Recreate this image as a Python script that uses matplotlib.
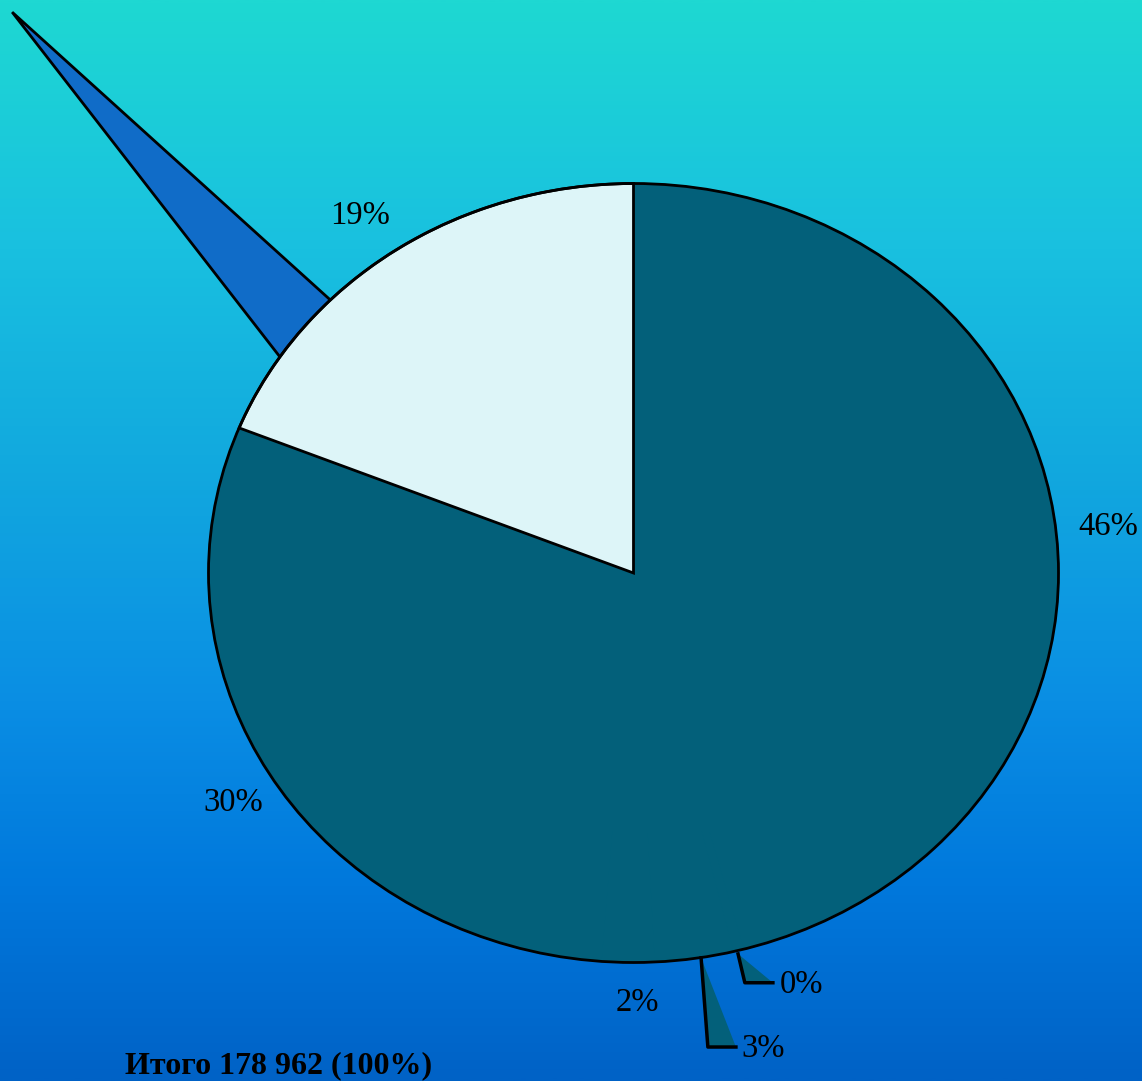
import numpy as np
import matplotlib.pyplot as plt
from matplotlib.colors import LinearSegmentedColormap
from matplotlib.patches import Ellipse, Polygon

# shares of the total, clockwise from 12 o'clock
labels = ["46%", "0%", "3%", "2%", "30%", "19%"]
values = [46, 0.4, 3, 2, 30, 19]
total_text = "Итого 178 962 (100%)"

dark = "#03607a"
light = "#ddf5f8"
needle_color = "#106cc8"
colors = [dark, dark, dark, dark, dark, light]

# label positions (data units, radius 1 = pie edge)
label_pos = [(1.118, 0.118), (0.345, -1.058), (0.253, -1.222),
             (0.008, -1.104), (-0.942, -0.59), (-0.644, 0.917)]
label_ha = ["center", "left", "left", "center", "center", "center"]


def main():
    fig = plt.figure(figsize=(11.42, 10.81), dpi=100)

    # gradient background
    bg = fig.add_axes([0, 0, 1, 1])
    bg.set_axis_off()
    stops = [(0.0, "#1ed8d2"), (0.23, "#19c0e0"), (0.42, "#12aade"),
             (0.65, "#0a8ee4"), (0.82, "#0078dc"), (1.0, "#0062c6")]
    cmap = LinearSegmentedColormap.from_list("bg", stops)
    grad = np.linspace(0, 1, 512).reshape(-1, 1)
    bg.imshow(grad, cmap=cmap, aspect="auto", extent=[0, 1, 0, 1])

    ax = fig.add_axes([0, 0, 1, 1])
    ax.patch.set_alpha(0)

    # long blue sliver pointing to the upper-left corner
    a1, a2 = np.radians(135.5), np.radians(146.3)
    tip = (-1.462, 1.44)
    ax.add_patch(Polygon([tip, (np.cos(a1), np.sin(a1)), (np.cos(a2), np.sin(a2))],
                         closed=True, facecolor=needle_color, edgecolor="black",
                         linewidth=2, zorder=1))

    wedges, _ = ax.pie(values, colors=colors, startangle=90, counterclock=False,
                       wedgeprops=dict(linewidth=1, edgecolor=dark))
    for w in wedges:
        w.set_zorder(2)
    wedges[-1].set_edgecolor("black")
    wedges[-1].set_linewidth(2)
    wedges[-1].set_zorder(3)
    ax.add_patch(Ellipse((0, 0), 2, 2, fill=False, edgecolor="black",
                         linewidth=2, zorder=4))

    # leader shapes for the two small slices
    leaders = {1: ((0.246, -0.978), -1.052, 0.066), 2: ((0.159, -0.988), -1.217, 0.066)}
    for i, (apex, yb, dx) in leaders.items():
        p1 = (apex[0] + 0.016, yb)
        p2 = (p1[0] + dx, yb)
        ax.add_patch(Polygon([apex, p1, p2], closed=True, facecolor=dark,
                             edgecolor="none", zorder=2))
        ax.plot([apex[0], p1[0], p2[0]], [apex[1], p1[1], p2[1]],
                color="black", linewidth=2.5, zorder=4)

    for lab, (x, y), ha in zip(labels, label_pos, label_ha):
        ax.text(x, y, lab, ha=ha, va="center", fontsize=23.5,
                family="Liberation Serif", color="black")

    ax.set_aspect("auto")
    ax.set_xlim(-633.5 / 425, (1142 - 633.5) / 425)
    ax.set_ylim(-(1081 - 573) / 389.5, 573 / 389.5)
    ax.set_axis_off()

    fig.text(125 / 1142, 1 - 1073 / 1081, total_text, ha="left", va="baseline",
             fontsize=23, fontweight="bold", family="Liberation Serif")

    fig.savefig("out.png", dpi=100)


main()
